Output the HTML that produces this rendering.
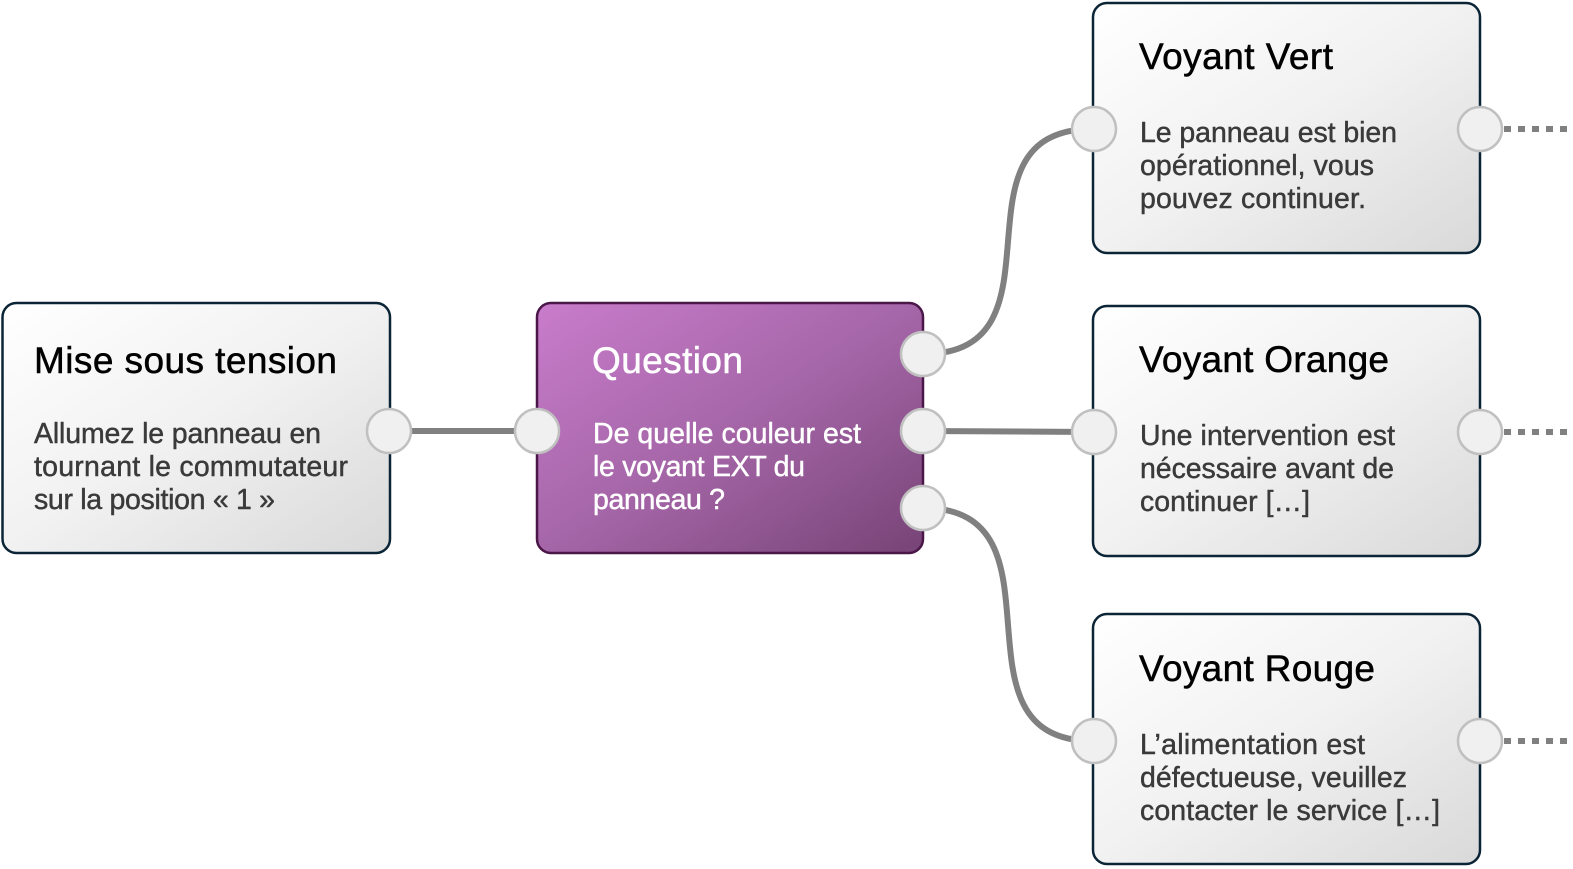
<!DOCTYPE html>
<html>
<head>
<meta charset="utf-8">
<style>
  html,body{margin:0;padding:0;background:#fff;}
  body{width:1573px;height:869px;overflow:hidden;}
  svg{display:block;}
  .t{font-family:"Liberation Sans",Arial,sans-serif;font-size:37px;fill:#000;stroke:#000;stroke-width:0.5px;}
  .b{font-family:"Liberation Sans",Arial,sans-serif;font-size:28.5px;fill:#3a3a3a;stroke:#3a3a3a;stroke-width:0.45px;}
  .tw{font-family:"Liberation Sans",Arial,sans-serif;font-size:37px;fill:#fff;stroke:#fff;stroke-width:0.5px;}
  .bw{font-family:"Liberation Sans",Arial,sans-serif;font-size:28.5px;fill:#fff;stroke:#fff;stroke-width:0.45px;}
</style>
</head>
<body>
<svg width="1573" height="869" viewBox="0 0 1573 869" xmlns="http://www.w3.org/2000/svg">
  <defs>
    <linearGradient id="gw" x1="0" y1="0" x2="1" y2="1">
      <stop offset="0" stop-color="#ffffff"/>
      <stop offset="0.5" stop-color="#f1f1f1"/>
      <stop offset="1" stop-color="#d9d9d9"/>
    </linearGradient>
    <linearGradient id="gp" x1="0" y1="0" x2="1" y2="1">
      <stop offset="0" stop-color="#c97ccb"/>
      <stop offset="0.5" stop-color="#a566a8"/>
      <stop offset="1" stop-color="#774476"/>
    </linearGradient>
  </defs>

  <!-- connectors -->
  <g fill="none" stroke="#808080" stroke-width="6">
    <line x1="390" y1="431" x2="537" y2="431"/>
    <line x1="923" y1="431" x2="1093" y2="432"/>
    <path d="M923 354 C1075 354, 941 129, 1093 129"/>
    <path d="M923 508 C1075 508, 941 741, 1093 741"/>
  </g>
  <g fill="none" stroke="#808080" stroke-width="6" stroke-dasharray="7 7">
    <line x1="1504" y1="129" x2="1568" y2="129"/>
    <line x1="1504" y1="432" x2="1568" y2="432"/>
    <line x1="1504" y1="741" x2="1568" y2="741"/>
  </g>

  <!-- boxes -->
  <rect x="2.5" y="303" width="387.5" height="250" rx="14" ry="14" fill="url(#gw)" stroke="#0b2536" stroke-width="2.5"/>
  <rect x="537" y="303" width="386" height="250" rx="14" ry="14" fill="url(#gp)" stroke="#4b1749" stroke-width="2.5"/>
  <rect x="1093" y="3" width="387" height="250" rx="14" ry="14" fill="url(#gw)" stroke="#0b2536" stroke-width="2.5"/>
  <rect x="1093" y="306" width="387" height="250" rx="14" ry="14" fill="url(#gw)" stroke="#0b2536" stroke-width="2.5"/>
  <rect x="1093" y="614" width="387" height="250" rx="14" ry="14" fill="url(#gw)" stroke="#0b2536" stroke-width="2.5"/>

  <!-- ports -->
  <g fill="#f0f0f0" stroke="#c0c0c0" stroke-width="2.5">
    <circle cx="389" cy="431" r="22"/>
    <circle cx="537" cy="431" r="22"/>
    <circle cx="923" cy="354" r="22"/>
    <circle cx="923" cy="431" r="22"/>
    <circle cx="923" cy="508" r="22"/>
    <circle cx="1094" cy="129" r="22"/>
    <circle cx="1480" cy="129" r="22"/>
    <circle cx="1094" cy="432" r="22"/>
    <circle cx="1480" cy="432" r="22"/>
    <circle cx="1094" cy="741" r="22"/>
    <circle cx="1480" cy="741" r="22"/>
  </g>

  <!-- Mise sous tension -->
  <text class="t" x="34" y="373" textLength="303" lengthAdjust="spacing">Mise sous tension</text>
  <text class="b" x="34" y="443" textLength="287" lengthAdjust="spacing">Allumez le panneau en</text>
  <text class="b" x="34" y="476" textLength="314" lengthAdjust="spacing">tournant le commutateur</text>
  <text class="b" x="34" y="509" textLength="241" lengthAdjust="spacing">sur la position « 1 »</text>

  <!-- Question -->
  <text class="tw" x="592" y="373" textLength="151" lengthAdjust="spacing">Question</text>
  <text class="bw" x="593" y="443" textLength="268" lengthAdjust="spacing">De quelle couleur est</text>
  <text class="bw" x="593" y="476" textLength="212" lengthAdjust="spacing">le voyant EXT du</text>
  <text class="bw" x="593" y="509" textLength="132" lengthAdjust="spacing">panneau ?</text>

  <!-- Voyant Vert -->
  <text class="t" x="1139" y="69" textLength="194" lengthAdjust="spacing">Voyant Vert</text>
  <text class="b" x="1140" y="142" textLength="257" lengthAdjust="spacing">Le panneau est bien</text>
  <text class="b" x="1140" y="175" textLength="234" lengthAdjust="spacing">opérationnel, vous</text>
  <text class="b" x="1140" y="208" textLength="226" lengthAdjust="spacing">pouvez continuer.</text>

  <!-- Voyant Orange -->
  <text class="t" x="1139" y="372" textLength="250" lengthAdjust="spacing">Voyant Orange</text>
  <text class="b" x="1140" y="445" textLength="255" lengthAdjust="spacing">Une intervention est</text>
  <text class="b" x="1140" y="478" textLength="254" lengthAdjust="spacing">nécessaire avant de</text>
  <text class="b" x="1140" y="511" textLength="170" lengthAdjust="spacing">continuer […]</text>

  <!-- Voyant Rouge -->
  <text class="t" x="1139" y="681" textLength="236" lengthAdjust="spacing">Voyant Rouge</text>
  <text class="b" x="1140" y="754" textLength="225" lengthAdjust="spacing">L’alimentation est</text>
  <text class="b" x="1140" y="787" textLength="267" lengthAdjust="spacing">défectueuse, veuillez</text>
  <text class="b" x="1140" y="820" textLength="300" lengthAdjust="spacing">contacter le service […]</text>
</svg>
</body>
</html>
